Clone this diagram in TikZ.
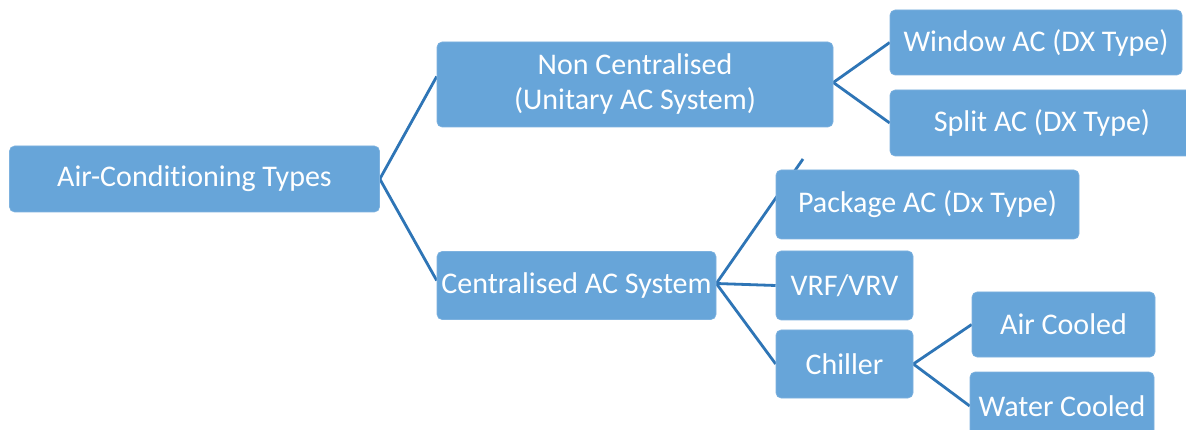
\documentclass[tikz,border=0pt]{standalone}
\usepackage{fontspec}
\setmainfont{Carlito}[Ligatures=NoCommon]
\usetikzlibrary{backgrounds}
\definecolor{boxblue}{HTML}{67A5D9}
\definecolor{lineblue}{HTML}{2E75B6}
\begin{document}
\begin{tikzpicture}[x=1pt,y=-1pt,
  box/.style={fill=boxblue, draw=boxblue!85!white, line width=0.6pt, rounded corners=5pt, inner sep=0pt,
    text=white, align=center, font=\fontsize{30}{35}\selectfont},
  conn/.style={draw=lineblue, line width=2.8pt}]
\useasboundingbox (0,0) rectangle (1186,430);
\clip (0,0) rectangle (1186,430);
\node[box, minimum width=370pt, minimum height=66pt] (root) at (194.5,179) {Air-Conditioning Types};
\node[box, minimum width=396pt, minimum height=85pt] (non) at (635,84.5) {Non Centralised\\(Unitary AC System)};
\node[box, minimum width=279pt, minimum height=68pt] (cent) at (576.5,285.5) {Centralised AC System};
\node[box, minimum width=292pt, minimum height=65pt] (win) at (1036,42.5) {Window AC (DX Type)};
\node[box, minimum width=304pt, minimum height=66pt] (split) at (1042,123) {Split AC (DX Type)};
\node[box, minimum width=303pt, minimum height=69pt] (pack) at (927.5,204.5) {Package AC (Dx Type)};
\node[box, minimum width=137pt, minimum height=69pt] (vrf) at (844.5,285.5) {VRF/VRV};
\node[box, minimum width=137pt, minimum height=68pt] (chil) at (844.5,364) {Chiller};
\node[box, minimum width=183pt, minimum height=65pt] (air) at (1063.5,324.5) {Air Cooled};
\node[box, minimum width=184pt, minimum height=68pt] (water) at (1062,406) {Water Cooled};
\coordinate (stub) at (803,159);
\begin{scope}[on background layer]
\fill[white] (0,0) rectangle (1186,430);
\draw[conn] (root.east) -- ([yshift=8pt]non.west);
\draw[conn] (root.east) -- ([yshift=5pt]cent.west);
\draw[conn] ([yshift=2pt]non.east) -- (win.west);
\draw[conn] ([yshift=2pt]non.east) -- (split.west);
\draw[conn] ([yshift=2pt]cent.east) -- (stub);
\draw[conn] ([yshift=2pt]cent.east) -- (vrf.west);
\draw[conn] ([yshift=2pt]cent.east) -- (chil.west);
\draw[conn] (chil.east) -- (air.west);
\draw[conn] (chil.east) -- (water.west);
\end{scope}
\end{tikzpicture}
\end{document}
